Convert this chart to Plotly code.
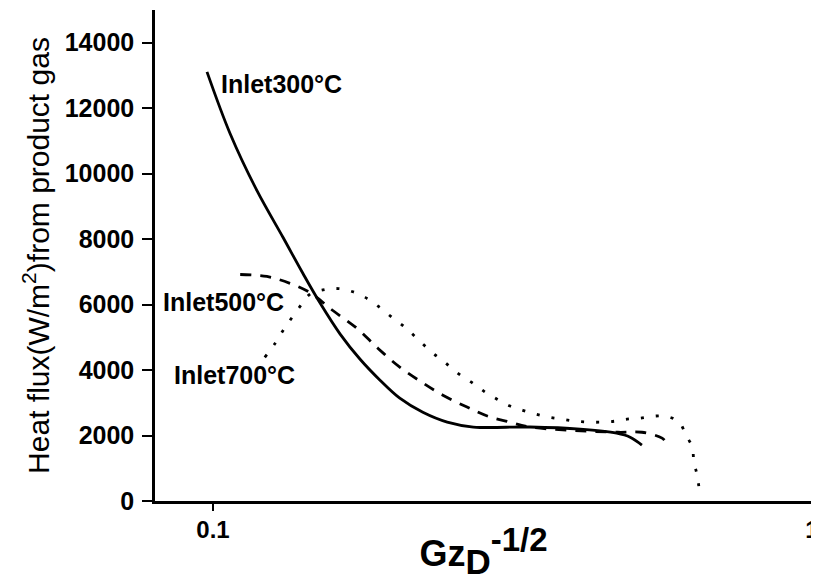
import plotly.graph_objects as go
import numpy as np

# ── Data (Gz_D^-1/2 vs heat flux, W/m2) ───────────────────────────────────────
gz_300 = [0.0977, 0.1068, 0.1184, 0.1309, 0.1413, 0.151, 0.163, 0.176, 0.190,
          0.205, 0.224, 0.246, 0.272, 0.338, 0.410, 0.472, 0.497, 0.520]
q_300 = [13110, 11220, 9480, 8050, 6950, 6040, 5100, 4330, 3690,
         3140, 2710, 2410, 2260, 2260, 2195, 2070, 1950, 1710]

gz_500 = [0.111, 0.123, 0.1344, 0.1451, 0.1585, 0.174, 0.1886, 0.205, 0.223,
          0.242, 0.2655, 0.2877, 0.3133, 0.338, 0.474, 0.520, 0.562, 0.570]
q_500 = [6920, 6860, 6650, 6370, 5820, 5270, 4660, 4090, 3630,
         3230, 2870, 2590, 2410, 2260, 2100, 2100, 1920, 1800]

gz_700 = [0.122, 0.127, 0.1309, 0.1355, 0.141, 0.145, 0.1538, 0.1618, 0.1706,
          0.1795, 0.1886, 0.199, 0.2094, 0.2198, 0.232, 0.2436, 0.2564, 0.270,
          0.2834, 0.298, 0.3133, 0.329, 0.346, 0.364, 0.383, 0.402, 0.4226,
          0.446, 0.469, 0.491, 0.516, 0.543, 0.570, 0.600, 0.616, 0.631,
          0.635, 0.643, 0.648]
q_700 = [4390, 4820, 5210, 5610, 6040, 6310, 6460, 6490, 6400,
         6220, 5950, 5610, 5300, 4940, 4540, 4240, 3900, 3630,
         3350, 3110, 2900, 2770, 2650, 2560, 2500, 2440, 2410,
         2410, 2440, 2500, 2530, 2590, 2590, 2410, 2010, 1650,
         1190, 790, 370]

y_ticks = [0, 2000, 4000, 6000, 8000, 10000, 12000, 14000]
y_tick_labels = [str(v) for v in y_ticks]
x_ticks = [0.1, 1]
x_tick_labels = ['0.1', '1']

labels = ['Inlet300°C', 'Inlet500°C', 'Inlet700°C']
label_x = [0.130, 0.1039, 0.1088]
label_y = [12750, 6070, 3840]

FONT = 'Arial, Liberation Sans, sans-serif'
BLACK = '#000000'

fig = go.Figure()
fig.add_trace(go.Scatter(x=gz_300, y=q_300, mode='lines', line_shape='spline',
                         line=dict(color=BLACK, width=2.8), showlegend=False))
fig.add_trace(go.Scatter(x=gz_500, y=q_500, mode='lines', line_shape='spline',
                         line=dict(color=BLACK, width=2.8, dash='11px,9px'),
                         showlegend=False))
fig.add_trace(go.Scatter(x=gz_700, y=q_700, mode='lines', line_shape='spline',
                         line=dict(color=BLACK, width=2.8, dash='3px,12px'),
                         showlegend=False))

for t, lx, ly in zip(labels, label_x, label_y):
    fig.add_annotation(x=np.log10(lx), y=ly, text=t, showarrow=False,
                       xanchor='center', yanchor='middle',
                       font=dict(family=FONT, size=25, color=BLACK, weight='bold'))

# page body has an 8px margin, so the figure is 8px smaller each way
fig.update_layout(
    width=811, height=573,
    paper_bgcolor='white', plot_bgcolor='white',
    margin=dict(l=147, r=7, t=2, b=80),
    font=dict(family=FONT, color=BLACK),
    xaxis=dict(
        type='log', range=[np.log10(0.08), 0], automargin=False,
        tickvals=x_ticks, ticktext=x_tick_labels,
        showgrid=False, zeroline=False,
        showline=True, linecolor=BLACK, linewidth=2.5,
        ticks='outside', ticklen=7, tickwidth=2, tickcolor=BLACK,
        ticklabelstandoff=-2,
        tickfont=dict(family=FONT, size=24, weight='bold'),
        title=dict(text='Gz<sub><span style="font-size:35px">D</span></sub>'
                        '<sup><span style="font-size:33px">-1/2</span></sup>',
                   standoff=0,
                   font=dict(family=FONT, size=36, weight='bold')),
    ),
    yaxis=dict(
        range=[0, 15000], automargin=False,
        tickvals=y_ticks, ticktext=y_tick_labels,
        showgrid=False, zeroline=False,
        showline=True, linecolor=BLACK, linewidth=2.5,
        ticks='outside', ticklen=10, tickwidth=2, tickcolor=BLACK,
        ticklabelstandoff=3,
        tickfont=dict(family=FONT, size=25, weight='bold'),
        title=dict(text='Heat flux(W/m<sup>2</sup>)from product gas', standoff=7,
                   font=dict(family=FONT, size=30)),
    ),
)

fig.write_html("out.html")
